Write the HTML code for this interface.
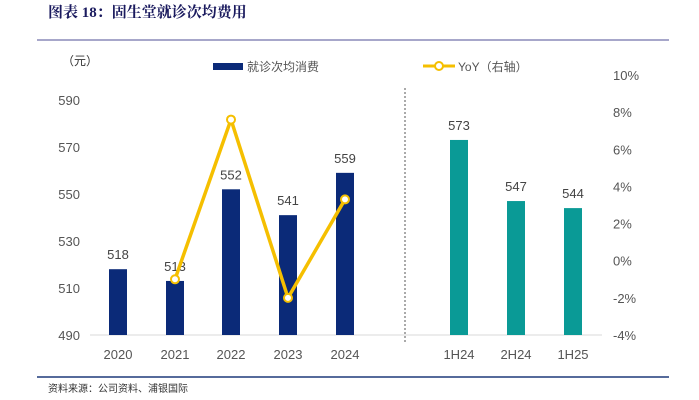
<!DOCTYPE html>
<html><head><meta charset="utf-8"><style>
body{margin:0;background:#fff;}
svg{display:block;font-family:"Liberation Sans","Noto Sans CJK SC",sans-serif;}
</style></head><body>
<svg id="c" width="699" height="400" viewBox="0 0 699 400">
<text x="48" y="17" font-size="15" font-weight="bold" fill="#1a1a5e" font-family="'Liberation Serif','Noto Serif CJK SC',serif">图表 18：固生堂就诊次均费用</text>
<line x1="37" y1="40" x2="669" y2="40" stroke="#8a8ab8" stroke-width="1.5"/>
<text x="62" y="65" font-size="12" fill="#333">（元）</text>
<rect x="213" y="63" width="30" height="7" fill="#0b2a78"/>
<text x="247" y="71" font-size="12" fill="#555">就诊次均消费</text>
<line x1="423" y1="66" x2="455" y2="66" stroke="#f5bf00" stroke-width="3"/>
<circle cx="439" cy="66" r="4" fill="#fff" stroke="#f5bf00" stroke-width="2"/>
<text x="458" y="71" font-size="12" fill="#555">YoY（右轴）</text>
<line x1="90" y1="335" x2="602" y2="335" stroke="#d9d9d9" stroke-width="1"/>
<line x1="405" y1="88" x2="405" y2="342" stroke="#555" stroke-width="1" stroke-dasharray="2,2"/>
<g id="g"></g>
<line x1="37" y1="377" x2="669" y2="377" stroke="#1f3a7a" stroke-width="1.5"/>
<text x="48" y="392" font-size="10" fill="#333">资料来源：公司资料、浦银国际</text>
</svg>
<script>
const categories=["2020","2021","2022","2023","2024","1H24","2H24","1H25"];
const values=[518,513,552,541,559,573,547,544];
const yoyCats=["2021","2022","2023","2024"];
const yoyValues=[-1.0,7.6,-2.0,3.3];
const leftTicks=[490,510,530,550,570,590];
const rightTicks=[-4,-2,0,2,4,6,8,10];
const centers=[118,175,231,288,345,459,516,573];
const yL=v=>335-(v-490)*2.35;
const yR=v=>335-(v+4)*(260/14);
const ns="http://www.w3.org/2000/svg";
const g=document.getElementById('g');
function el(t,a,txt){const e=document.createElementNS(ns,t);for(const k in a)e.setAttribute(k,a[k]);if(txt!==undefined)e.textContent=txt;g.appendChild(e);return e;}
leftTicks.forEach(t=>{const e=el('text',{x:80,y:yL(t)+5,'font-size':13,fill:'#555','text-anchor':'end'},t);

});
rightTicks.forEach(t=>{const e=el('text',{x:613,y:yR(t)+5,'font-size':13,fill:'#555'},t+'%');

});
categories.forEach((c,i)=>{const x=centers[i];const col=i<5?'#0b2a78':'#0a9a96';
const r=el('rect',{x:x-9,y:yL(values[i]),width:18,height:335-yL(values[i]),fill:col});


const l=el('text',{x:x,y:yL(values[i])-10,'font-size':13,fill:'#444','text-anchor':'middle'},values[i]);


const t=el('text',{x:x,y:359,'font-size':13,fill:'#555','text-anchor':'middle'},c);

});
const pts=yoyCats.map((c,i)=>[centers[categories.indexOf(c)],yR(yoyValues[i])]);
const pl=el('polyline',{points:pts.map(p=>p.join(',')).join(' '),fill:'none',stroke:'#f5bf00','stroke-width':3.5,'stroke-linejoin':'round'});


pts.forEach((p,i)=>{const c=el('circle',{cx:p[0],cy:p[1],r:4,fill:'#fff',stroke:'#f5bf00','stroke-width':2});

});
</script>
</body></html>
